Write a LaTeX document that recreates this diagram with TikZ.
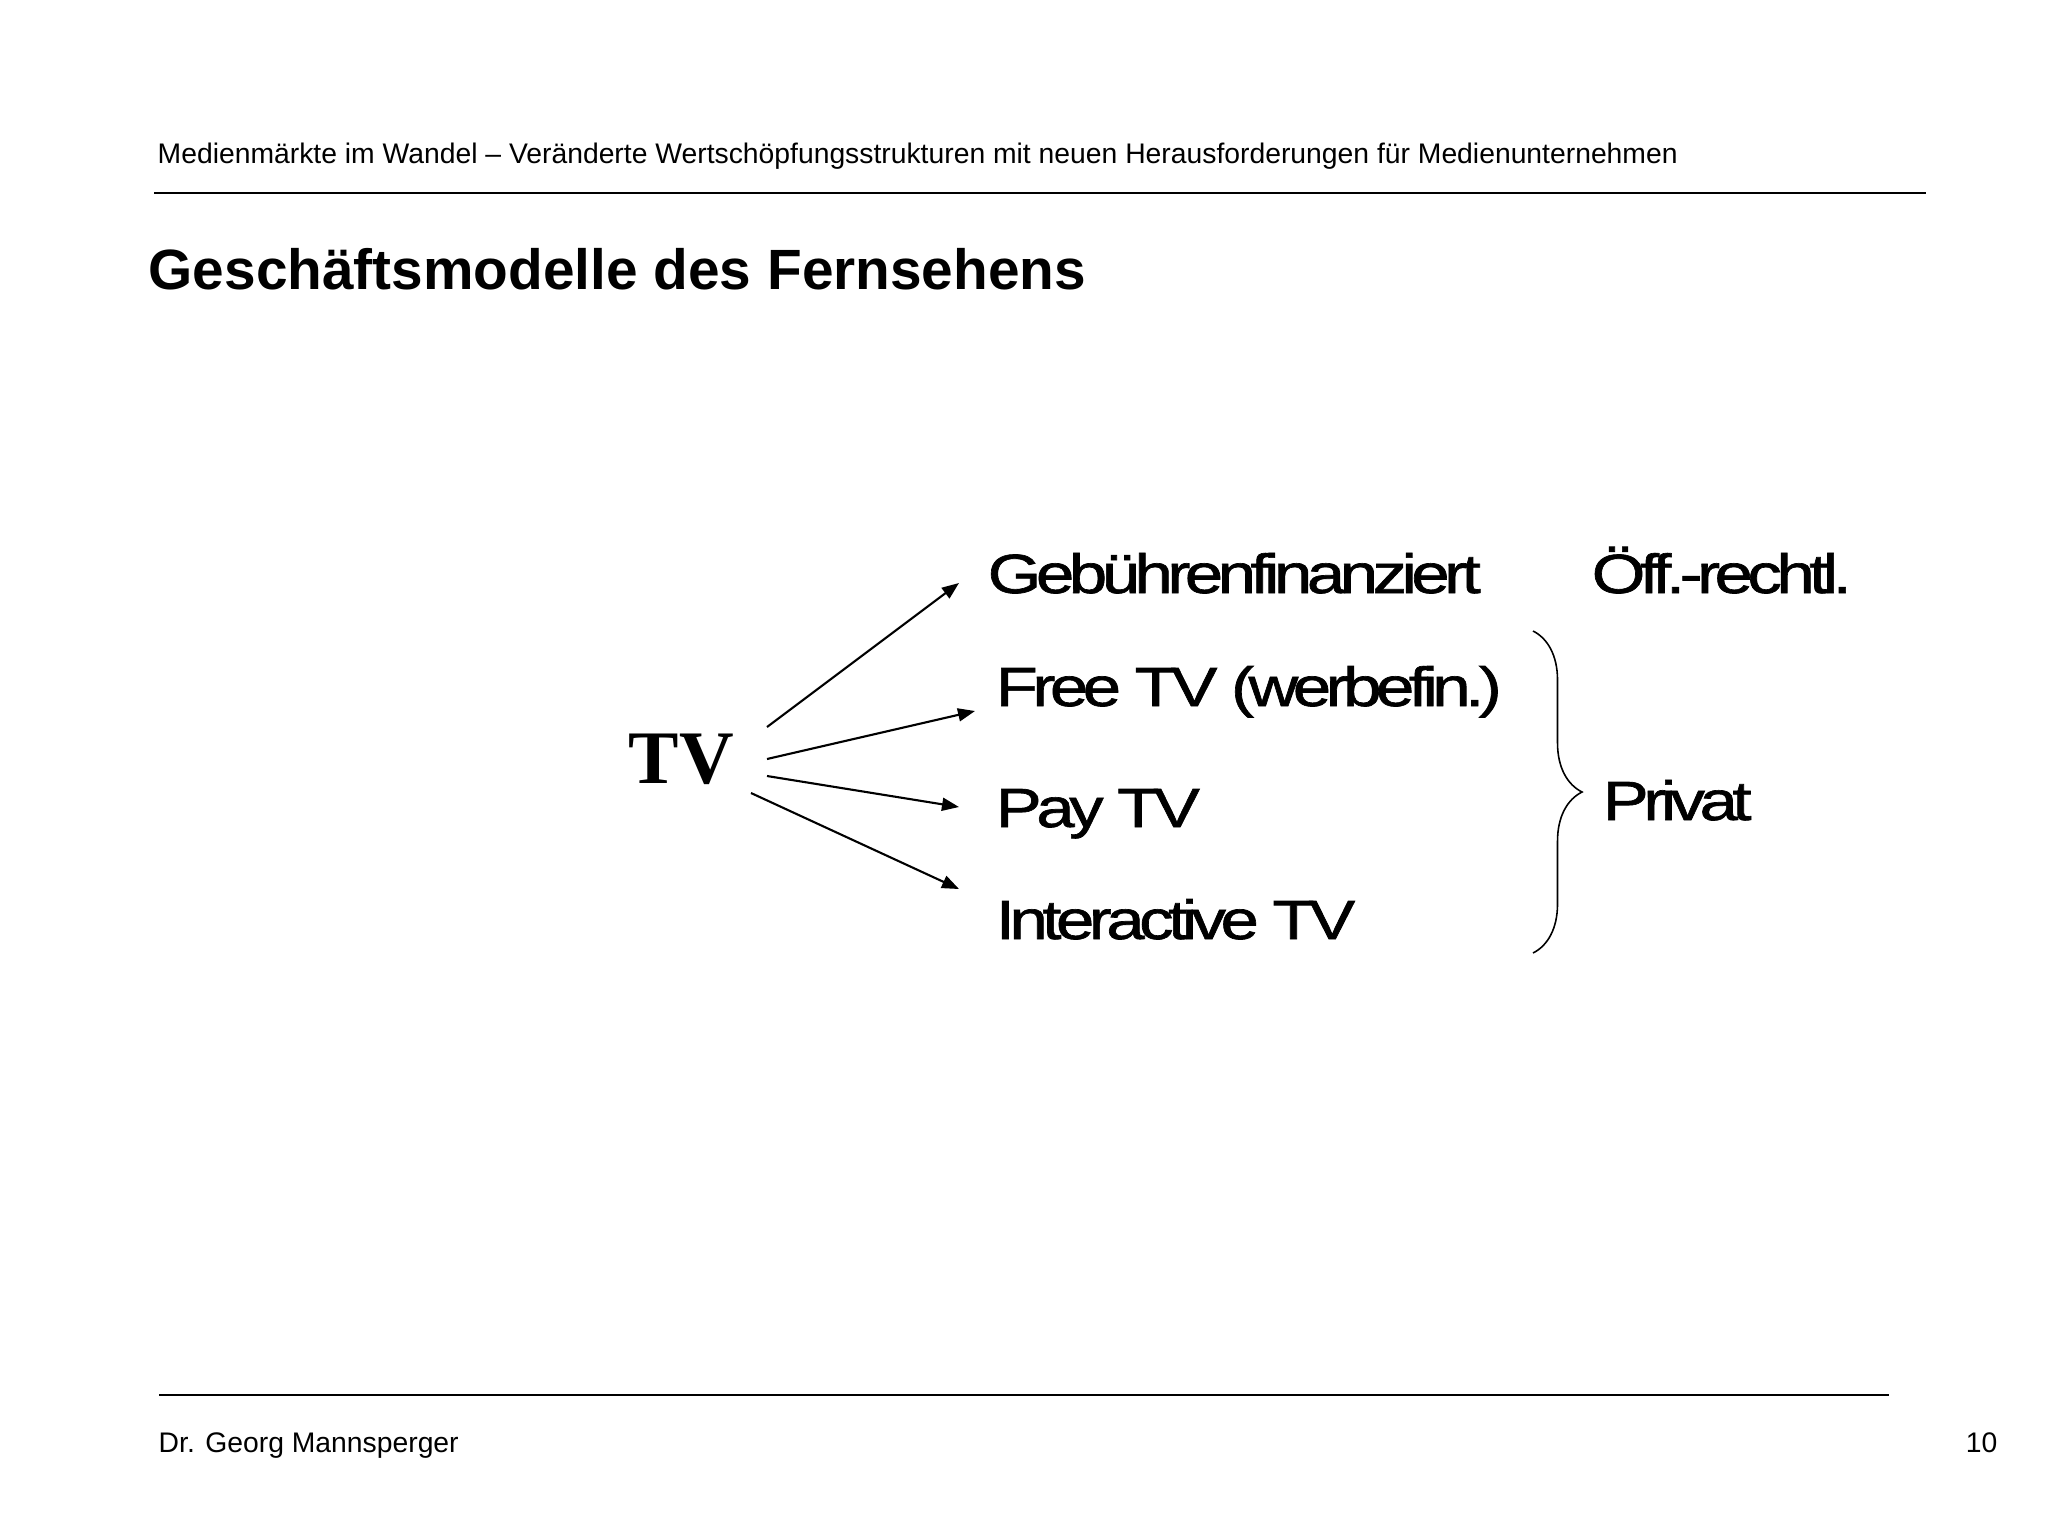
\documentclass[tikz,border=0pt]{standalone}
\usepackage{fontspec}
\setmainfont{Liberation Sans}
\newfontfamily\itemfont[FakeStretch=1.25,LetterSpace=-10,FakeBold=1.2]{Liberation Sans}
\newfontfamily\tvfont{Liberation Serif}
\usetikzlibrary{calc, positioning}
\usetikzlibrary{arrows.meta}
\usetikzlibrary{decorations.pathreplacing}

\begin{document}
\begin{tikzpicture}[x=0.01cm,y=-0.01cm,
  head/.style={anchor=base west, inner sep=0pt, font=\fontsize{8.05}{10}\selectfont},
  heading/.style={anchor=base west, inner sep=0pt, font=\bfseries\fontsize{16.15}{19}\selectfont},
  item/.style={anchor=base west, inner sep=0pt, font=\itemfont\fontsize{15.7}{19}\selectfont},
  fan/.style={line width=0.6pt, -{Triangle[length=0.17cm,width=0.13cm]}},
  rule/.style={line width=0.6pt}]
\useasboundingbox (0,0) rectangle (2048,1536);
\def\topy{193}
\def\boty{1395}

% Page head and foot
\node[head] (hdr) at (157,163)
  {Medienmärkte im Wandel – Veränderte Wertschöpfungsstrukturen mit neuen Herausforderungen für Medienunternehmen};
\draw[rule] (154,\topy) -- (1926,\topy);
\node[heading] (ttl) at (148,289) {Geschäftsmodelle des Fernsehens};
\draw[rule] (159,\boty) -- (1889,\boty);
\node[head] (auth) at (158,1452) {Dr. Georg Mannsperger};
\node[head, anchor=base east] (page) at (1998,1452) {10};

% TV and its business models
\node[anchor=base west, inner sep=0pt, font=\tvfont\bfseries\fontsize{21.5}{26}\selectfont] (tv) at (628,783) {TV};
\node[item] (geb) at (987,593) {Gebührenfinanziert};
\node[item] (oeff) at (1591,593) {Öff.-rechtl.};
\node[item] (free) at (995,706) {Free TV (werbefin.)};
\node[item] (pay) at (995,827) {Pay TV};
\node[item] (inter) at (995,939) {Interactive TV};
\node[item] (priv) at (1602,820) {Privat};

% Fan of arrows
\coordinate (f1) at (767,727);
\coordinate (f2) at (767,759);
\coordinate (f3) at (767,776);
\coordinate (f4) at (751,793);
\draw[fan] (f1) -- ([shift={(-28,-10)}]geb.base west);
\draw[fan] (f2) -- ([shift={(-20,5)}]free.base west);
\draw[fan] (f3) -- ([shift={(-36,-20)}]pay.base west);
\draw[fan] (f4) -- ([shift={(-36,-50)}]inter.base west);

% Brace
\draw[line width=0.45pt, decorate, decoration={brace, amplitude=0.49cm}]
  (1533,631) -- (1533,953);
\end{tikzpicture}
\end{document}
